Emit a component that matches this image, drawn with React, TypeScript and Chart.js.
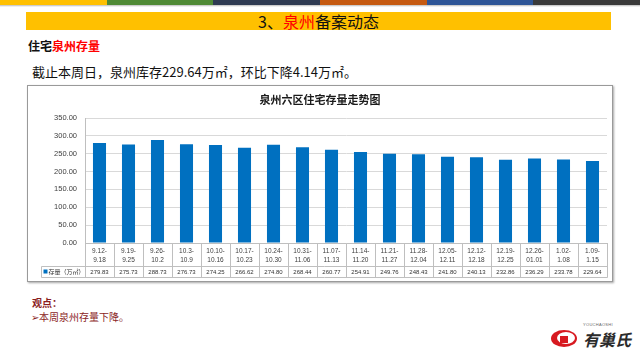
import React, { useEffect, useRef } from 'react';
import Chart from 'chart.js/auto';

const chartTitle = '泉州六区住宅存量走势图';
const seriesLabel = '存量（万㎡）';
const categories: string[][] = [
  ['9.12-', '9.18'], ['9.19-', '9.25'], ['9.26-', '10.2'], ['10.3-', '10.9'],
  ['10.10-', '10.16'], ['10.17-', '10.23'], ['10.24-', '10.30'], ['10.31-', '11.06'],
  ['11.07-', '11.13'], ['11.14-', '11.20'], ['11.21-', '11.27'], ['11.28-', '12.04'],
  ['12.05-', '12.11'], ['12.12-', '12.18'], ['12.19-', '12.25'], ['12.26-', '01.01'],
  ['1.02-', '1.08'], ['1.09-', '1.15'],
];
const stockValues: number[] = [
  279.83, 275.73, 288.73, 276.73, 274.25, 266.62, 274.80, 268.44, 260.77,
  254.91, 249.76, 248.43, 241.80, 240.13, 232.86, 236.29, 233.78, 229.64,
];
const yTicks: number[] = [0, 50, 100, 150, 200, 250, 300, 350];

const stripeColors = ['#FFC000', '#4F8A35', '#2F3B52', '#C55A11', '#2E5597', '#3A3A3A'];

const BAR_COLOR = '#0070C0';
const LINE_COLOR = '#bfbfbf';
const NUM_FONT = '"Liberation Sans", Arial, sans-serif';
const CJK_FONT = '"Noto Sans CJK SC", "Noto Sans", sans-serif';

const tablePlugin = {
  id: 'dataTablePlugin',
  afterDraw(chart: any) {
    const { ctx, chartArea, scales } = chart;
    const xs = scales.x;
    const n = stockValues.length;
    const half = (xs.getPixelForValue(1) - xs.getPixelForValue(0)) / 2;
    const top = Math.round(chartArea.bottom) + 0.5;
    const mid = top + 23;
    const bottom = top + 34;
    const legendLeft = 13.5;
    const right = Math.round(xs.getPixelForValue(n - 1) + half) + 0.5;
    ctx.save();
    // title
    ctx.fillStyle = '#1a1a1a';
    ctx.font = `bold 11px ${CJK_FONT}`;
    ctx.textAlign = 'center';
    ctx.textBaseline = 'middle';
    ctx.fillText(chartTitle, chart.width / 2, 14);

    ctx.strokeStyle = LINE_COLOR;
    ctx.lineWidth = 1;
    ctx.beginPath();
    for (let i = 0; i <= n; i++) {
      const px = Math.round(i < n ? xs.getPixelForValue(i) - half : xs.getPixelForValue(n - 1) + half) + 0.5;
      ctx.moveTo(px, top);
      ctx.lineTo(px, bottom);
    }
    ctx.moveTo(legendLeft, mid);
    ctx.lineTo(right, mid);
    ctx.moveTo(legendLeft, bottom);
    ctx.lineTo(right, bottom);
    ctx.moveTo(legendLeft, mid);
    ctx.lineTo(legendLeft, bottom);
    ctx.stroke();

    // values
    ctx.fillStyle = '#333';
    ctx.font = `6px ${NUM_FONT}`;
    ctx.textAlign = 'center';
    ctx.textBaseline = 'middle';
    const rowY = (mid + bottom) / 2;
    stockValues.forEach((v, i) => {
      ctx.fillText(v.toFixed(2), xs.getPixelForValue(i), rowY);
    });
    // legend key
    ctx.fillStyle = BAR_COLOR;
    ctx.fillRect(legendLeft + 2, rowY - 2.5, 4, 4);
    ctx.fillStyle = '#333';
    ctx.textAlign = 'left';
    ctx.font = `6px ${CJK_FONT}`;
    ctx.fillText(seriesLabel, legendLeft + 7, rowY);
    ctx.restore();
  },
};

function StockChart() {
  const ref = useRef<HTMLCanvasElement | null>(null);
  useEffect(() => {
    if (!ref.current) return;
    const chart = new Chart(ref.current, {
      type: 'bar',
      data: {
        labels: categories,
        datasets: [
          {
            label: seriesLabel,
            data: stockValues,
            backgroundColor: BAR_COLOR,
            barPercentage: 0.45,
            categoryPercentage: 1,
          },
        ],
      },
      options: {
        animation: false,
        responsive: false,
        devicePixelRatio: 1,
        layout: { padding: { top: 32, left: 0, right: 5, bottom: 4 } },
        plugins: { legend: { display: false }, tooltip: { enabled: false }, title: { display: false } },
        scales: {
          x: {
            grid: { display: false, drawTicks: false },
            border: { display: true, color: LINE_COLOR },
            ticks: {
              padding: 3,
              color: '#404040',
              font: { size: 6.5, family: NUM_FONT, lineHeight: 1.5 },
              maxRotation: 0,
              autoSkip: false,
            },
            afterFit: (s: any) => { s.height = 34; },
          },
          y: {
            min: 0,
            max: 350,
            grid: { color: '#d9d9d9', drawTicks: false },
            border: { display: true, color: LINE_COLOR },
            ticks: {
              padding: 8,
              color: '#404040',
              font: { size: 7.5, family: NUM_FONT },
              callback: (v: any) => Number(v).toFixed(2),
            },
            afterBuildTicks: (s: any) => { s.ticks = yTicks.map((v) => ({ value: v })); },
            afterFit: (s: any) => { s.width = 57; },
          },
        },
      },
      plugins: [tablePlugin],
    });
    return () => chart.destroy();
  }, []);
  return <canvas ref={ref} width={584} height={195} style={{ width: 584, height: 195, display: 'block' }} />;
}

export default function App() {
  const abs = (l: number, t: number, extra: React.CSSProperties = {}): React.CSSProperties => ({
    position: 'absolute', left: l, top: t, ...extra,
  });
  return (
    <div style={{ position: 'absolute', left: 0, top: 0, width: 640, height: 355, background: '#fff', overflow: 'hidden', fontFamily: CJK_FONT }}>
      {/* top stripe */}
      {stripeColors.map((c, i) => (
        <div key={i} style={abs(Math.round(i * 640 / 6), 0, { width: Math.round((i + 1) * 640 / 6) - Math.round(i * 640 / 6), height: 5, background: c })} />
      ))}
      <div style={abs(0, 5, { width: 640, height: 2, background: 'linear-gradient(#bbb, #fff)' })} />
      {/* yellow title bar */}
      <div style={abs(26, 12, { width: 585, height: 18, background: '#FFC000', display: 'flex', alignItems: 'center', justifyContent: 'center', fontSize: 16, color: '#111', lineHeight: '18px' })}>
        <span>3、<span style={{ color: '#FF0000' }}>泉州</span>备案动态</span>
      </div>
      <div style={abs(28, 37, { fontSize: 12, fontWeight: 'bold', color: '#111', lineHeight: '18px' })}>
        住宅<span style={{ color: '#FF0000' }}>泉州存量</span>
      </div>
      <div style={abs(32, 63, { fontSize: 13, color: '#111', lineHeight: '18px', whiteSpace: 'nowrap' })}>
        截止本周日，泉州库存229.64万㎡，环比下降4.14万㎡。
      </div>
      {/* chart box */}
      <div style={abs(27, 85, { width: 584, height: 195, border: '1px solid #9a9a9a', boxShadow: '1px 1px 2px rgba(0,0,0,0.35)', background: '#fff' })}>
        <StockChart />
      </div>
      {/* viewpoint */}
      <div style={abs(32, 296, { fontSize: 10, fontWeight: 'bold', color: '#8B1E1E', lineHeight: '14px' })}>观点：</div>
      <div style={abs(31, 310, { fontSize: 10, color: '#8B1E1E', lineHeight: '14px' })}>➢本周泉州存量下降。</div>
      {/* logo */}
      <div style={abs(551, 330, { width: 26, height: 17, borderRadius: '50%', background: '#D71920' })} />
      <div style={abs(557, 332, { width: 18, height: 12, borderRadius: '50%', background: '#fff' })} />
      <div style={abs(560, 336, { width: 8, height: 7, background: '#D71920' })} />
      <div style={abs(583, 322, { fontSize: 4, color: '#666', letterSpacing: 0.3, fontFamily: NUM_FONT })}>YOUCHAOSHI</div>
      <div style={abs(583, 329, { fontSize: 16, fontWeight: 'bold', fontStyle: 'italic', color: '#2b2b2b', lineHeight: '20px' })}>有巢氏</div>
    </div>
  );
}
